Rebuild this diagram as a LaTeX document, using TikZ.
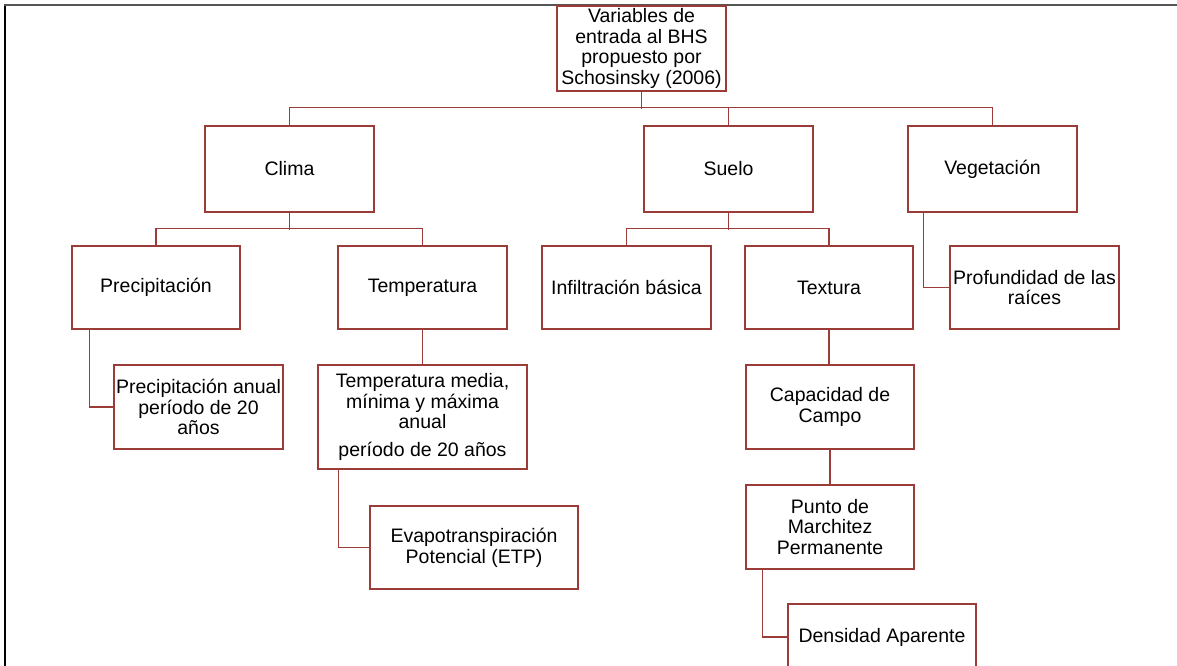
\documentclass[tikz,border=0pt]{standalone}
\usepackage{fontspec}
\setmainfont{Liberation Sans}
\definecolor{boxred}{RGB}{155,60,56}
\definecolor{framegray}{RGB}{85,85,85}
\begin{document}
\begin{tikzpicture}[x=1pt,y=-1pt,
  box/.style={draw=boxred, fill=white, line width=1.2pt, inner sep=0pt, align=center,
    minimum width=169pt, minimum height=84pt, font=\fontsize{19.5}{20.7}\selectfont},
  conn/.style={draw=boxred, line width=1.3pt}]
\useasboundingbox (0,0) rectangle (1177,665);
% frame
\draw[black, line width=1.2pt] (5,670) -- (5,5);
\draw[framegray, line width=1.5pt] (4.4,5) -- (1180,5);
% level 0
\node[box, minimum height=85pt] (root) at (641.5,48.5) {Variables de\\entrada al BHS\\propuesto por\\Schosinsky (2006)};
% level 1
\node[box, minimum height=86pt] (clima) at (289.5,169) {Clima};
\node[box, minimum height=86pt] (suelo) at (728.5,169) {Suelo};
\node[box, minimum height=86pt] (veg) at (992.5,169) {Vegetación};
% level 2
\node[box, minimum width=168pt, minimum height=83pt] (prec) at (156,287.5) {Precipitación};
\node[box, minimum height=83pt] (temp) at (422.5,287.5) {Temperatura};
\node[box, minimum height=83pt] (infil) at (626.5,287.5) {Infiltración básica};
\node[box, minimum width=168pt, minimum height=83pt] (textura) at (829,287.5) {Textura};
\node[box, minimum height=83pt] (prof) at (1034.5,287.5) {Profundidad de las\\raíces};
% level 3
\node[box] (precan) at (198.5,407) {Precipitación anual\\período de 20\\años};
\node[box, minimum width=209pt, minimum height=104pt] (tempm) at (422.5,417) {Temperatura media,\\mínima y máxima\\anual\\[7pt]período de 20 años};
\node[box, minimum width=168pt] (cap) at (830,407) {Capacidad de\\Campo};
% level 4
\node[box, minimum width=208pt, minimum height=83pt] (evap) at (474,547.5) {Evapotranspiración\\Potencial (ETP)};
\node[box, minimum width=168pt] (punto) at (830,527) {Punto de\\Marchitez\\Permanente};
\node[box, minimum width=188pt, minimum height=66pt] (dens) at (882,637) {Densidad Aparente};
% connectors
\draw[conn] (root.south) -- ++(0,17);
\draw[conn] (clima.north) -- ++(0,-18) -| (veg.north);
\draw[conn] (suelo.north) -- ++(0,-18);
\draw[conn] (clima.south) -- ++(0,17);
\draw[conn] (prec.north) -- ++(0,-17) -| (temp.north);
\draw[conn] (suelo.south) -- ++(0,17);
\draw[conn] (infil.north) -- ++(0,-17) -| (textura.north);
\draw[conn] ([xshift=16pt]veg.south west) |- (prof.west);
\draw[conn] ([xshift=18pt]prec.south west) |- (precan.west);
\draw[conn] (temp.south) -- (tempm.north);
\draw[conn] ([xshift=21pt]tempm.south west) |- (evap.west);
\draw[conn] (textura.south) -- (textura.south |- cap.north);
\draw[conn] (cap.south) -- (punto.north);
\draw[conn] ([xshift=17pt]punto.south west) |- (dens.west);
\end{tikzpicture}
\end{document}
